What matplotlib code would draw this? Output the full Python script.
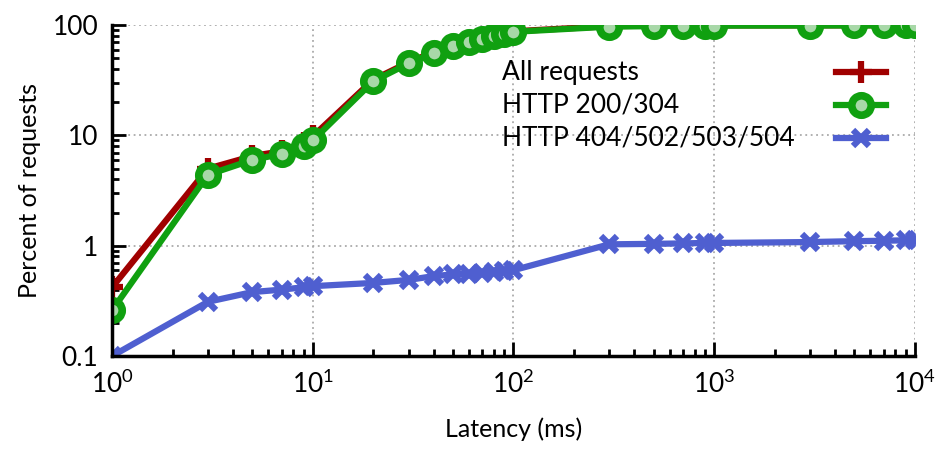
import numpy as np
import matplotlib
matplotlib.use("Agg")
import matplotlib.pyplot as plt

plt.rcParams['font.family'] = ['Lato', 'DejaVu Sans']
plt.rcParams['mathtext.fontset'] = 'custom'
plt.rcParams['mathtext.rm'] = 'Lato'
plt.rcParams['mathtext.it'] = 'Lato'

latency = [1, 3, 5, 7, 9, 10, 20, 30, 40, 50, 60, 70, 80, 90, 100,
           300, 500, 700, 900, 1000, 3000, 5000, 7000, 9000, 10000]
all_req = [0.42, 5.0, 6.5, 7.2, 8.6, 9.8, 32, 46, 57, 66, 71, 76, 81, 85, 88,
           98, 99, 99, 99.5, 99.5, 99.6, 99.7, 99.8, 99.9, 100]
http_ok = [0.26, 4.4, 6.0, 6.8, 8.1, 9.0, 31, 45, 56, 65, 70, 75, 80, 84, 87,
           97, 98, 98.5, 99, 99, 99.2, 99.4, 99.6, 99.8, 99.9]
http_err = [0.1, 0.31, 0.38, 0.40, 0.42, 0.43, 0.46, 0.49, 0.53, 0.55, 0.56, 0.57, 0.58, 0.59, 0.60,
            1.03, 1.04, 1.05, 1.06, 1.06, 1.08, 1.10, 1.11, 1.12, 1.12]
labels = ['All requests', 'HTTP 200/304', 'HTTP 404/502/503/504']

fig = plt.figure(figsize=(9.5, 4.66), dpi=100)
ax = fig.add_axes([0.118, 0.236, 0.845, 0.71])

l1, = ax.plot(latency, all_req, color='#a00000', lw=4.5, marker='+', ms=16, mew=4.5)
l2, = ax.plot(latency, http_ok, color='#10a010', lw=4.5, marker='o', ms=14, mew=5.5, mfc='#a8d8a8')
l3, = ax.plot(latency, http_err, color='#4f5fd0', lw=4.5, marker='x', ms=12, mew=4.5)

ax.set_xscale('log')
ax.set_yscale('log')
ax.set_xlim(1, 1e4)
ax.set_ylim(0.1, 100)
ax.set_yticks([0.1, 1, 10, 100])
ax.set_yticklabels(['0.1', '1', '10', '100'])

ax.grid(True, which='major', linestyle=(0, (1, 2)), color='#aaaaaa', lw=1.3)
for s in ['top', 'right']:
    ax.spines[s].set_visible(False)
for s in ['left', 'bottom']:
    ax.spines[s].set_linewidth(2.5)
ax.tick_params(which='major', direction='in', length=10, width=2, labelsize=19, pad=10)
ax.tick_params(which='minor', direction='in', length=5, width=2)

ax.set_xlabel('Latency (ms)', fontsize=18, labelpad=14)
ax.set_ylabel('Percent of requests', fontsize=18, labelpad=8)

# legend: samples on the right, labels left-aligned further left
leg = ax.legend([l1, l2, l3], ['', '', ''], loc='upper right', bbox_to_anchor=(0.977, 0.922),
                frameon=False, fontsize=19, handlelength=1.9, labelspacing=0.3,
                handletextpad=0, borderaxespad=0)
fig.canvas.draw()
inv = ax.transAxes.inverted()
for line, lab in zip(leg.get_lines(), labels):
    bb = line.get_window_extent(fig.canvas.get_renderer())
    yc = inv.transform((0, (bb.y0 + bb.y1) / 2))[1]
    ax.text(0.486, yc, lab, transform=ax.transAxes, fontsize=19, va='center', ha='left')

fig.savefig('out.png', dpi=100)
